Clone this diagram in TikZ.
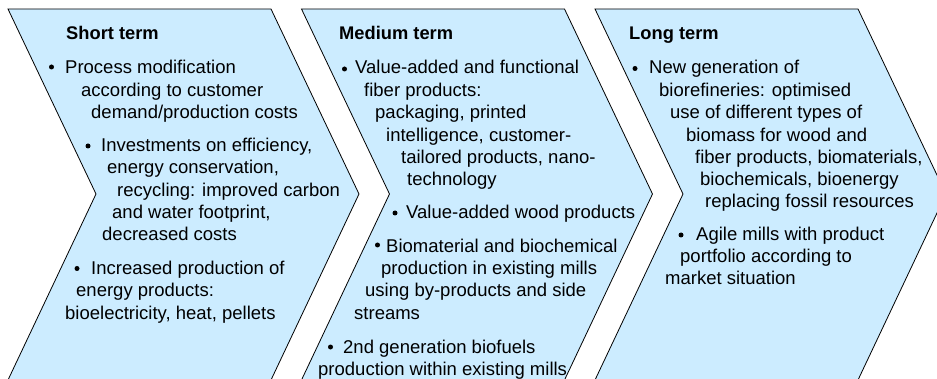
\documentclass[tikz,border=0pt]{standalone}
\usepackage{fontspec}
\setmainfont{Liberation Sans}
\usepackage{tikz}
\definecolor{chevblue}{HTML}{CCECFF}

\begin{document}
\begin{tikzpicture}[x=1pt,y=-1pt,
    chev/.style={draw=black,line width=0.8pt,fill=chevblue,line join=miter},
    txt/.style={anchor=base west,inner sep=0pt,font=\fontsize{18.5}{22}\selectfont},
    head/.style={txt,font=\fontsize{18.3}{22}\selectfont\bfseries}]
        \useasboundingbox (0,0) rectangle (937,379);
        \clip (0,0) rectangle (937,379);
        \foreach \o in {0,293.5,587}
            \draw[chev] (8+\o,9) -- (271+\o,9) -- (359+\o,194) -- (271+\o,380) -- (8+\o,380) -- (96+\o,194) -- cycle;
        \node[head] (short) at (66,40) {Short term};
        \fill (51.5,67) circle (2.5);
        \node[txt] (s1a) at (65,74) {Process modification};
        \node[txt] (s1b) at (81,96.5) {according to customer};
        \node[txt] (s1c) at (91,118.5) {demand/production costs};
        \fill (88,146) circle (2.5);
        \node[txt] (s2a) at (101,152) {Investments on efficiency,};
        \node[txt] (s2b) at (107,174) {energy conservation,};
        \node[txt] (s2c) at (117,196.5) {recycling: improved carbon};
        \node[txt] (s2d) at (112,218.5) {and water footprint,};
        \node[txt] (s2e) at (102,240.5) {decreased costs};
        \fill (77,268.5) circle (2.5);
        \node[txt] (s3a) at (91,275) {Increased production of};
        \node[txt] (s3b) at (76,297) {energy products:};
        \node[txt] (s3c) at (65,319.5) {bioelectricity, heat, pellets};
        \node[head] (medium) at (339,40) {Medium term};
        \fill (344.5,69) circle (2.5);
        \node[txt] (m1a) at (355,74) {Value-added and functional};
        \node[txt] (m1b) at (364,96.5) {fiber products:};
        \node[txt] (m1c) at (375,119) {packaging, printed};
        \node[txt] (m1d) at (386,141.5) {intelligence, customer-};
        \node[txt] (m1e) at (401,163.5) {tailored products, nano-};
        \node[txt] (m1f) at (407,185.5) {technology};
        \fill (395,213) circle (2.5);
        \node[txt] (m2a) at (406,219) {Value-added wood products};
        \fill (377.5,245) circle (2.5);
        \node[txt] (m3a) at (386,252.5) {Biomaterial and biochemical};
        \node[txt] (m3b) at (381,275) {production in existing mills};
        \node[txt] (m3c) at (365,297) {using by-products and side};
        \node[txt] (m3d) at (354,319.5) {streams};
        \fill (330.5,347) circle (2.5);
        \node[txt] (m4a) at (343,353) {2nd generation biofuels};
        \node[txt] (m4b) at (318,375) {production within existing mills};
        \node[head] (long) at (629,40) {Long term};
        \fill (635,68.5) circle (2.5);
        \node[txt] (l1a) at (649,74) {New generation of};
        \node[txt] (l1b) at (659,96.5) {biorefineries: optimised};
        \node[txt] (l1c) at (670,119) {use of different types of};
        \node[txt] (l1d) at (686,141.5) {biomass for wood and};
        \node[txt] (l1e) at (695,163.5) {fiber products, biomaterials,};
        \node[txt] (l1f) at (700,186) {biochemicals, bioenergy};
        \node[txt] (l1g) at (705,208) {replacing fossil resources};
        \fill (681,235) circle (2.5);
        \node[txt] (l2a) at (696,241) {Agile mills with product};
        \node[txt] (l2b) at (680,263) {portfolio according to};
        \node[txt] (l2c) at (665,285) {market situation};
    \end{tikzpicture}
\end{document}
